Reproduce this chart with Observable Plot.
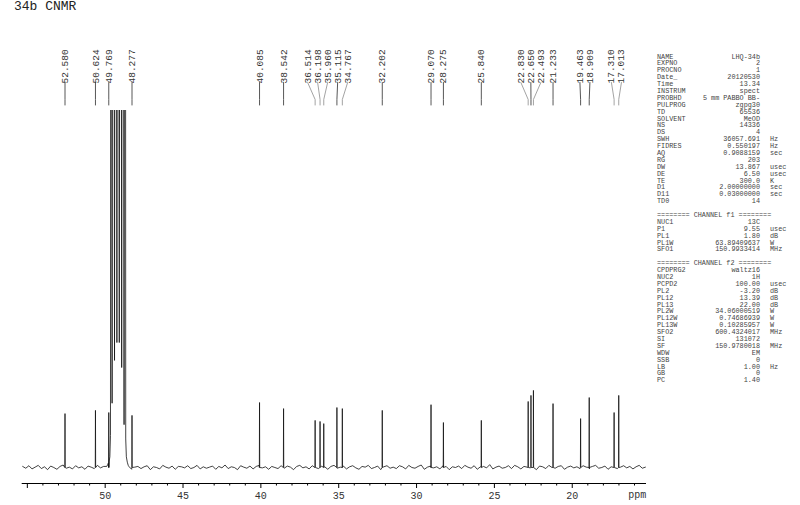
<!DOCTYPE html>
<html><head><meta charset="utf-8">
<script src="https://cdn.jsdelivr.net/npm/d3@7"></script>
<script src="https://cdn.jsdelivr.net/npm/@observablehq/plot@0.6"></script>
<style>
body{margin:0;background:#fff;}
#wrap{position:relative;width:800px;height:505px;overflow:hidden;font-family:"Liberation Mono",monospace;}
#title{position:absolute;left:14px;top:0px;font-size:13px;line-height:13px;color:#222;white-space:pre;}
#params{position:absolute;left:657px;top:53.5px;font-size:6.8px;color:#444;}
.row{position:relative;height:6.9px;width:140px;white-space:pre;line-height:6.9px;}
.row span{position:absolute;top:0;}
.row .n{left:0;}
.row .v{right:37px;}
.row .u{left:113px;}
#chart{position:absolute;left:0;top:0;}
</style></head>
<body>
<div id="wrap"><div id="chart"></div><div id="title">34b CNMR</div><div id="params"></div></div>
<script>
// ---- data ----
const peakPpm = [52.580, 50.624, 49.769, 48.277, 40.085, 38.542, 36.514, 36.198, 35.960, 35.115, 34.767, 32.202,
                 29.070, 28.275, 25.840, 22.830, 22.650, 22.493, 21.233, 19.463, 18.909, 17.310, 17.013];
const peakHeight = [15.1, 16.0, 15.4, 14.6, 18.2, 16.5, 13.2, 12.9, 12.3, 16.8, 16.5, 16.0,
                    17.6, 12.6, 13.2, 18.5, 20.2, 21.6, 17.9, 13.7, 19.6, 15.4, 20.2];
// solvent (MeOD) septet region, ppm and intensity
const solventPpm = [49.90,49.84,49.80,49.74,49.70,49.66,49.63,49.555,49.477,49.40,49.32,49.247,49.17,49.094,49.017,48.94,48.864,48.787,48.71,48.68,48.64,48.58,48.52,48.46];
const solventVal = [0.3,0.8,1.2,1.8,3,9,400,18,400,30,400,35,400,35,400,28,400,12,400,8,3,1.5,0.6,0.2];
// baseline noise read every 0.2 ppm from 55.3 ppm
const noiseStart = 55.3, noiseStep = 0.2;
const noise = [
 0.3,-0.2,0.5,-0.4,0.1,0.6,-0.3,0.2,-0.6,0.4,0.0,-0.5,0.3,0.7,-0.2,0.1,-0.4,0.5,-0.1,0.2,
 -0.5,0.4,0.1,-0.3,0.6,-0.1,0.3,-0.6,0.2,0.5,-0.4,0.0,0.4,-0.2,0.7,-0.5,0.1,0.3,-0.3,0.2,
 0.5,-0.6,0.2,0.0,-0.4,0.6,0.1,-0.2,0.4,-0.5,0.3,0.2,-0.1,0.5,-0.3,0.0,0.6,-0.4,0.2,-0.2,
 0.1,0.4,-0.5,0.3,-0.1,0.7,-0.3,0.2,0.0,-0.6,0.5,0.1,-0.2,0.4,-0.4,0.3,0.6,-0.1,0.2,-0.5,
 0.3,0.0,-0.3,0.5,-0.2,0.4,0.1,-0.6,0.3,0.6,-0.1,0.2,-0.4,0.5,0.0,-0.3,0.4,0.2,-0.5,0.3,
 0.6,-0.2,0.1,0.4,-0.4,0.2,0.5,-0.1,-0.5,0.3,0.1,0.6,-0.3,0.0,0.4,-0.6,0.2,0.5,-0.2,0.1,
 -0.3,0.5,0.2,-0.4,0.6,0.0,-0.2,0.3,0.7,-0.5,0.1,0.4,-0.1,0.2,-0.4,0.5,0.3,-0.6,0.2,0.0,
 0.4,-0.3,0.6,0.1,-0.2,0.5,-0.5,0.2,0.3,-0.1,0.8,-0.4,0.1,0.4,-0.2,0.0,0.5,-0.3,0.6,0.2,
 -0.4,0.3,0.1,-0.1,0.5,-0.6,0.4,0.2,-0.3,0.6,0.0,-0.2,0.3,0.5,-0.5,0.1,0.4,-0.1,0.2,-0.3,
 0.5,0.1,-0.4,0.3,0.6,-0.2,0.0,0.4,-0.5,0.2,0.7,-0.3,0.1,0.5,-0.1,0.3,-0.4,0.2,0.6,-0.2,
 0.1];
const majorTicks = [55, 50, 45, 40, 35, 30, 25, 20];
const majorLabels = ["", "50", "45", "40", "35", "30", "25", "20"];
const minorTicks = [54,53,52,51,49,48,47,46,44,43,42,41,39,38,37,36,34,33,32,31,29,28,27,26,24,23,22,21,19,18,17,16];
const unitLabel = "ppm";

const acqNames = ["NAME","EXPNO","PROCNO","Date_","Time","INSTRUM","PROBHD","PULPROG","TD","SOLVENT","NS","DS","SWH","FIDRES","AQ","RG","DW","DE","TE","D1","D11","TD0"];
const acqValues = ["LHQ-34b","2","1","20120530","13.34","spect","5 mm PABBO BB-","zgpg30","65536","MeOD","14336","4","36057.691","0.550197","0.9088159","203","13.867","6.50","300.0","2.00000000","0.03000000","14"];
const acqUnits = ["","","","","","","","","","","","","Hz","Hz","sec","","usec","usec","K","sec","sec",""];
const f1Names = ["NUC1","P1","PL1","PL1W","SFO1"];
const f1Values = ["13C","9.55","1.80","63.89409637","150.9933414"];
const f1Units = ["","usec","dB","W","MHz"];
const f2Names = ["CPDPRG2","NUC2","PCPD2","PL2","PL12","PL13","PL2W","PL12W","PL13W","SFO2","SI","SF","WDW","SSB","LB","GB","PC"];
const f2Values = ["waltz16","1H","100.00","-3.20","13.39","22.00","34.06000519","0.74686939","0.10285957","600.4324017","131072","150.9780018","EM","0","1.00","0","1.40"];
const f2Units = ["","","usec","dB","dB","dB","W","W","W","MHz","","MHz","","","Hz","",""];

// ---- layout ----
const W = 800, H = 505, mL = 21.7, mR = 154, mT = 110, mB = 22;
const xDomain = [55.33, 15.23], yDomain = [-4.48, 100];
const xs = d3.scaleLinear().domain(xDomain).range([mL, W - mR]);
const ys = d3.scaleLinear().domain(yDomain).range([H - mB, mT]);

// spectrum
const spec = [];
noise.forEach((v, i) => { const p = noiseStart - noiseStep * i; if (p > 49.92 || p < 48.44) spec.push({ppm: p, v}); });
peakPpm.forEach((p, i) => { spec.push({ppm: p + 0.012, v: 0}, {ppm: p, v: peakHeight[i]}, {ppm: p - 0.012, v: 0}); });
solventPpm.forEach((p, i) => spec.push({ppm: p, v: solventVal[i]}));
spec.sort((a, b) => b.ppm - a.ppm);
// region between outermost solvent lines: signal stays above the plot, drawn as a grey band
const solventBand = solventPpm.map((p, i) => ({ppm: p, v: solventVal[i]})).filter(d => d.ppm <= 49.63 && d.ppm >= 48.71);

// label declutter
const gap = 10;
const items = peakPpm.map((p, i) => ({i, px: xs(p)})).sort((a, b) => a.px - b.px);
let clusters = items.map(d => ({members: [d], center: d.px}));
let merged = true;
while (merged) {
  merged = false;
  for (let k = 0; k < clusters.length - 1; k++) {
    const a = clusters[k], b = clusters[k + 1];
    const aEnd = a.center + (a.members.length - 1) * gap / 2;
    const bStart = b.center - (b.members.length - 1) * gap / 2;
    if (bStart - aEnd < gap) {
      const m = [...a.members, ...b.members];
      clusters.splice(k, 2, {members: m, center: d3.mean(m, d => d.px)});
      merged = true; break;
    }
  }
}
const labelData = [], leaders = [];
clusters.forEach(c => {
  const start = c.center - (c.members.length - 1) * gap / 2;
  c.members.forEach((m, j) => {
    const lx = xs.invert(start + j * gap);
    const p = peakPpm[m.i];
    const shifted = Math.abs(xs(lx) - xs(p)) > 0.8;
    const col = shifted ? "#999" : "#444";
    labelData.push({x: lx, y: ys.invert(83), text: p.toFixed(3)});
    leaders.push({id: m.i, x: lx, y: ys.invert(82), c: col},
                 {id: m.i, x: p, y: ys.invert(99), c: col},
                 {id: m.i, x: p, y: ys.invert(104.5), c: col});
  });
});

const chart = Plot.plot({
  width: W, height: H, marginLeft: mL, marginRight: mR, marginTop: mT, marginBottom: mB,
  x: {domain: xDomain},
  y: {domain: yDomain, axis: null},
  style: {fontFamily: "Liberation Mono, monospace", fontSize: "10px", background: "transparent", color: "#000"},
  marks: [
    Plot.areaY(solventBand, {x: "ppm", y1: "v", y2: yDomain[1], fill: "#c4c4c4", clip: true}),
    Plot.line(spec, {x: "ppm", y: "v", stroke: "#111", strokeWidth: 0.8, clip: true}),
    Plot.ruleY([yDomain[0]], {stroke: "#000", strokeWidth: 1}),
    Plot.axisX(majorTicks, {tickSize: 5, tickPadding: 3, tickFormat: d => majorLabels[majorTicks.indexOf(d)], fill: "#333"}),
    Plot.axisX(minorTicks, {tickSize: 2.5, tickFormat: () => ""}),
    Plot.text([unitLabel], {x: 15.83, y: ys.invert(490), text: d => d, lineAnchor: "top", fontSize: 10, fill: "#333"}),
    Plot.line(leaders, {x: "x", y: "y", z: "id", stroke: "c", strokeWidth: 0.9}),
    Plot.text(labelData, {x: "x", y: "y", text: "text", rotate: -90, textAnchor: "start", lineAnchor: "middle", fontSize: 9.5, fill: "#333"})
  ]
});
document.getElementById("chart").appendChild(chart);

// parameter block
const rows = [];
acqNames.forEach((n, i) => rows.push([n, acqValues[i], acqUnits[i]]));
rows.push(null, ["======== CHANNEL f1 ========"]);
f1Names.forEach((n, i) => rows.push([n, f1Values[i], f1Units[i]]));
rows.push(null, ["======== CHANNEL f2 ========"]);
f2Names.forEach((n, i) => rows.push([n, f2Values[i], f2Units[i]]));
const pe = document.getElementById("params");
rows.forEach(r => {
  const div = document.createElement("div"); div.className = "row";
  if (r) {
    const s = document.createElement("span"); s.className = "n"; s.textContent = r[0]; div.appendChild(s);
    if (r.length > 1) {
      const v = document.createElement("span"); v.className = "v"; v.textContent = r[1]; div.appendChild(v);
      const u = document.createElement("span"); u.className = "u"; u.textContent = r[2]; div.appendChild(u);
    }
  }
  pe.appendChild(div);
});
</script>
</body></html>
